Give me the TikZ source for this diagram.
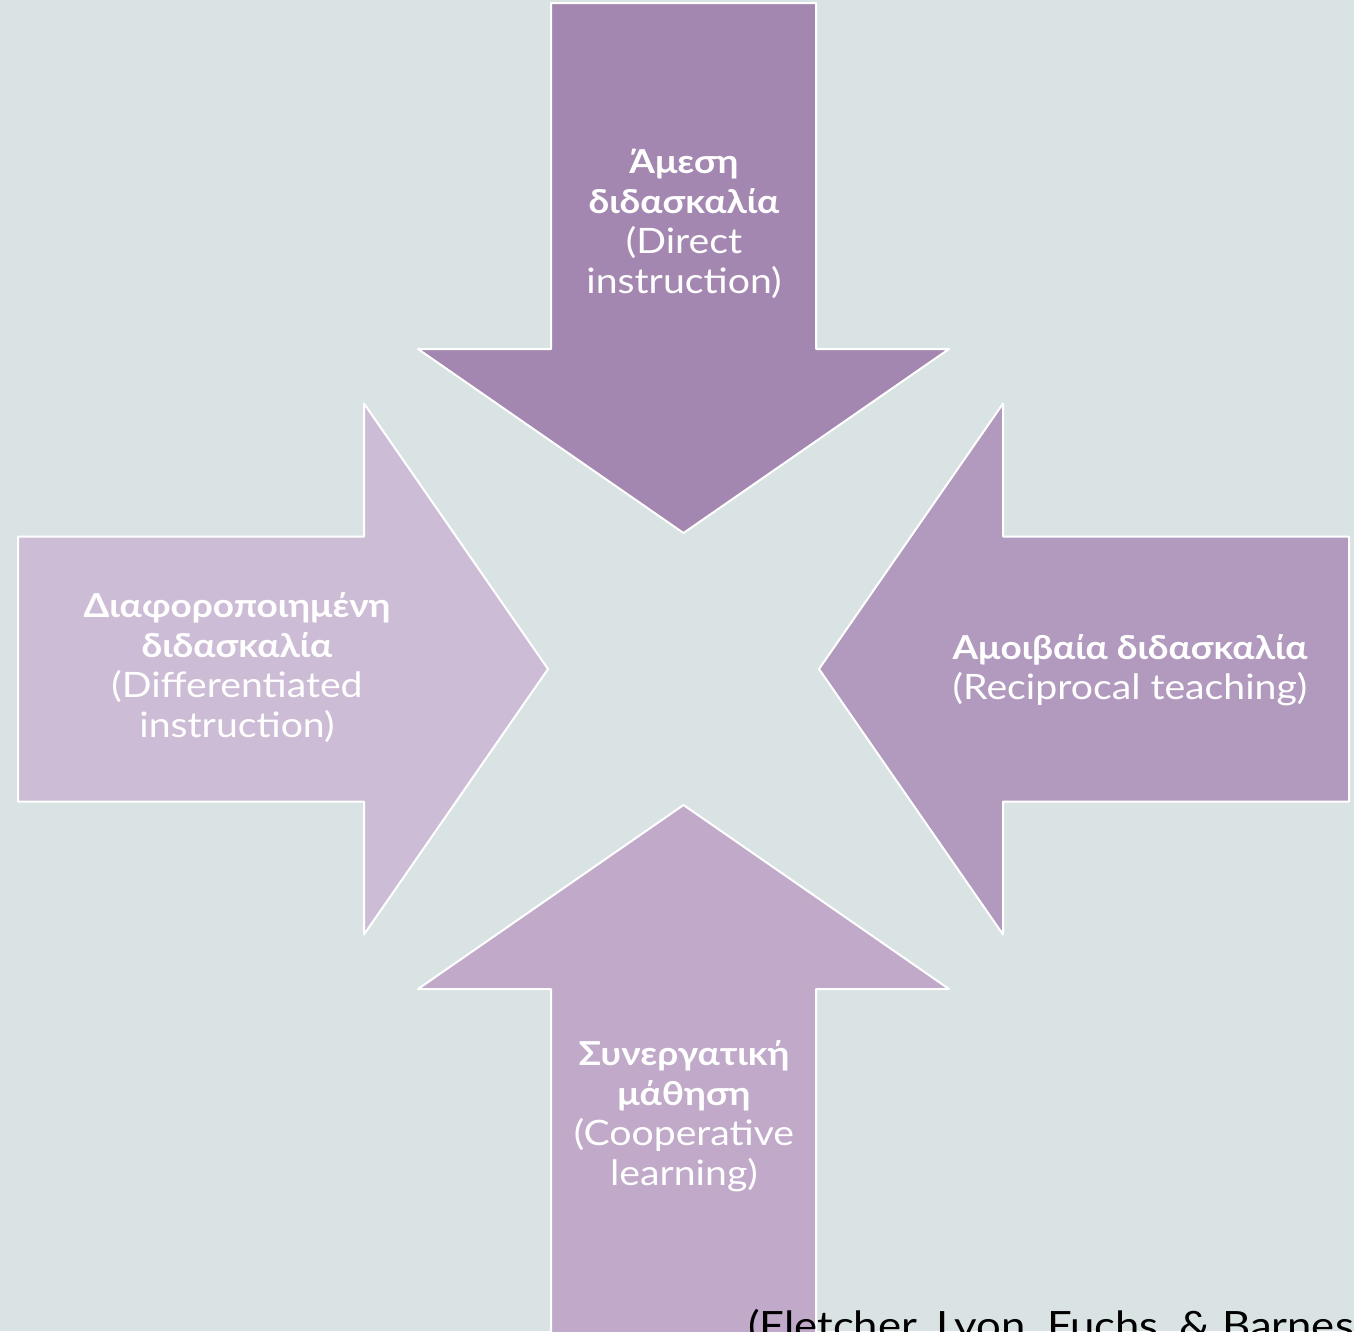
\documentclass[tikz,border=0pt]{standalone}
\usepackage{fontspec}
\setmainfont{Lato}[FakeStretch=1.12]
\definecolor{nen}{HTML}{DAE3E4}
\definecolor{mauTren}{HTML}{A487B0}
\definecolor{mauPhai}{HTML}{B29ABF}
\definecolor{mauTrai}{HTML}{CDBCD6}
\definecolor{mauDuoi}{HTML}{C1A9CA}
\newcommand{\dam}[1]{{\fontsize{33}{40}\selectfont\bfseries #1}}
\begin{document}
\begin{tikzpicture}[line join = round, x=1pt, y=-1pt]
	\tikzset{Mui-ten/.pic={
			\def\a{132.5}
			\def\b{265.5}
			\def\d{184}
			\def\l{530}
			\path[draw=white,line width=2pt,pic actions](0,0)--(-\d,\b)--(-\d,\a)--(-\l,\a)--(-\l,-\a)--(-\d,-\a)--(-\d,-\b)--cycle;
		},
		nhan/.style={text=white,align=center,font=\fontsize{35}{40}\selectfont}}
	\fill[nen](0,0)rectangle(1354,1331);
	\useasboundingbox(0,0)rectangle(1354,1331);
	\path(683.5,533)pic[rotate=-90,fill=mauTren]{Mui-ten};
	\path(548,669)pic[fill=mauTrai]{Mui-ten};
	\path(819,669)pic[rotate=180,fill=mauPhai]{Mui-ten};
	\path(683.5,805)pic[rotate=90,fill=mauDuoi]{Mui-ten};
	\node[nhan](Tren) at (684,224){\dam{Άμεση}\\\dam{διδασκαλία}\\(Direct\\instruction)};
	\node[nhan](Trai) at (237,668){\dam{Διαφοροποιημένη}\\\dam{διδασκαλία}\\(Differentiated\\instruction)};
	\node[nhan](Phai) at (1130,670){\dam{Αμοιβαία διδασκαλία}\\(Reciprocal teaching)};
	\node[nhan](Duoi) at (684,1116){\dam{Συνεργατική}\\\dam{μάθηση}\\(Cooperative\\learning)};
	\node[anchor=base west,inner sep=0pt,font=\fontsize{39}{44}\selectfont](Nguon) at (748,1339){(Fletcher, Lyon, Fuchs, \& Barnes};
\end{tikzpicture}
\end{document}
